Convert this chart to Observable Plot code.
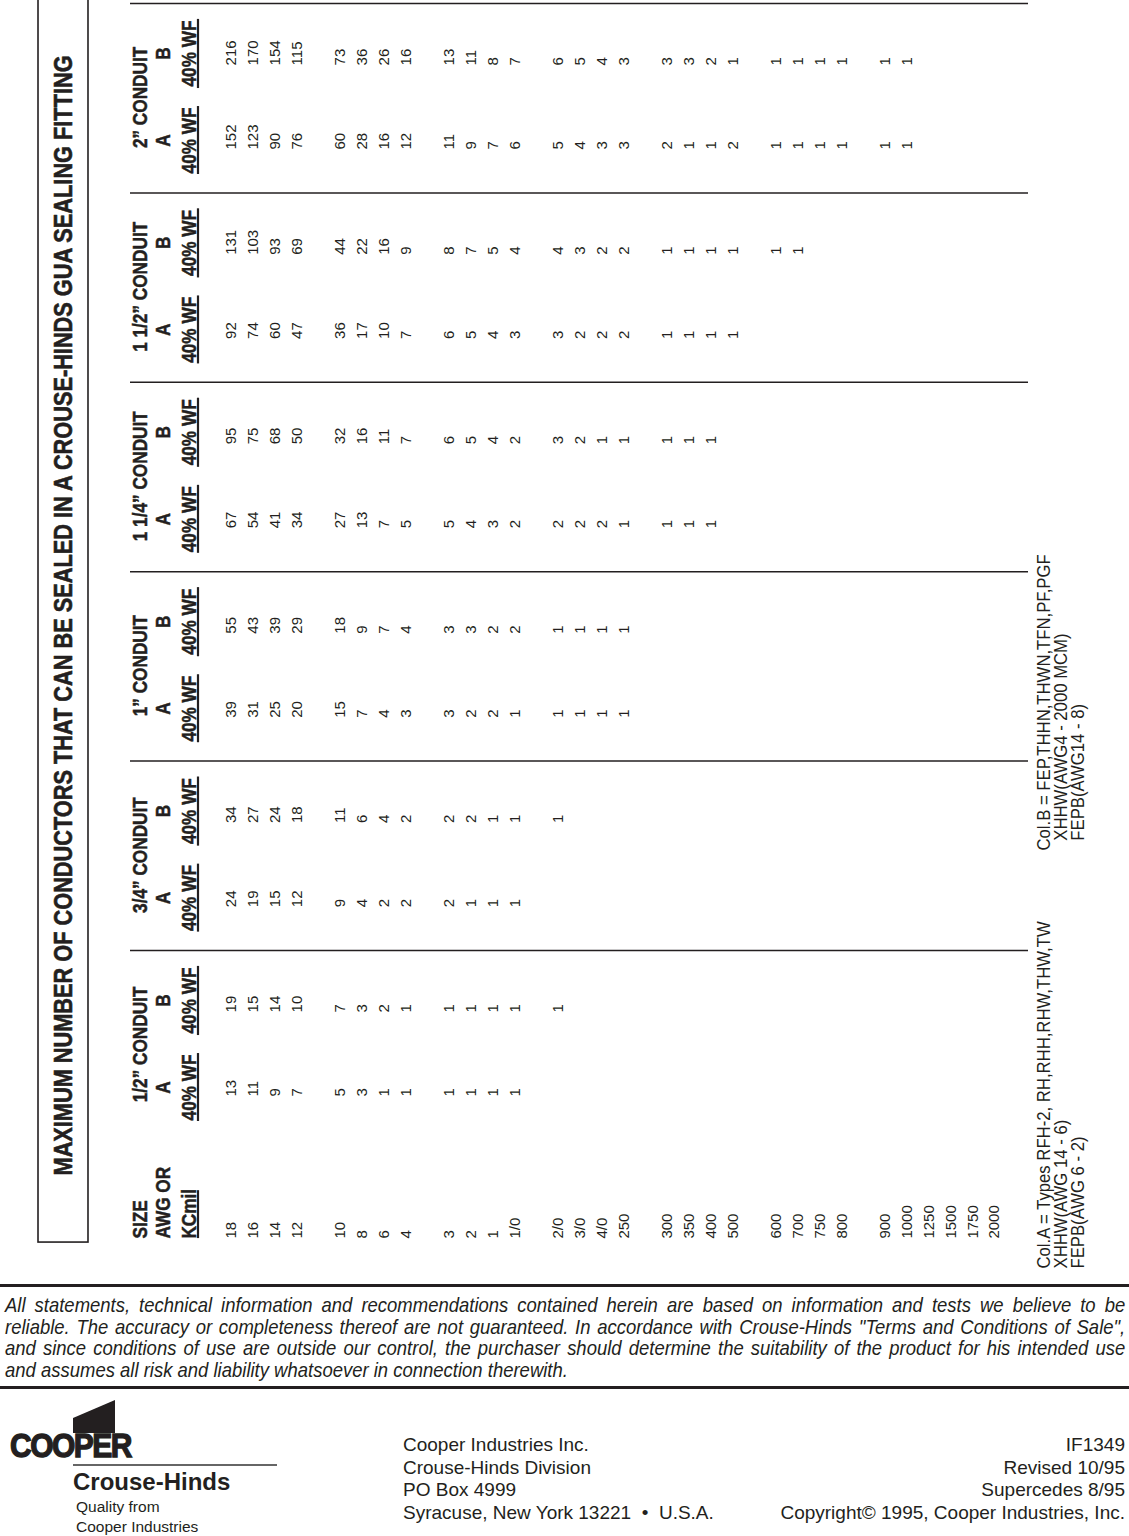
<!DOCTYPE html>
<html>
<head>
<meta charset="utf-8">
<script src="https://cdn.jsdelivr.net/npm/d3@7"></script>
<script src="https://cdn.jsdelivr.net/npm/@observablehq/plot@0.6"></script>
<style>
  body { margin: 0; background: #fff; }
  #page { position: relative; width: 1129px; height: 1536px; overflow: hidden; background: #fff; color: #231f20; font-family: "Liberation Sans", Arial, Helvetica, sans-serif; }
  #chart { position: absolute; left: 0; top: 0; }
  .hr { position: absolute; left: 0; width: 1129px; height: 3px; background: #231f20; }
  .disc { position: absolute; left: 5px; width: 1273px; transform: scaleX(0.88); transform-origin: 0 0; font-family: "Liberation Sans", Arial, sans-serif; font-style: italic; font-size: 21px; line-height: 21.7px; white-space: nowrap; }
  .disc div { text-align: justify; text-align-last: justify; }
  .disc div.last { text-align: left; text-align-last: left; }
  .addr { position: absolute; top: 1434px; font-size: 19px; line-height: 22.5px; }
</style>
</head>
<body>
<div id="page">
  <div id="chart"></div>
  <div class="hr" style="top:1284px"></div>
  <div class="disc" style="top:1294px">
    <div>All statements, technical information and recommendations contained herein are based on information and tests we believe to be</div>
    <div>reliable. The accuracy or completeness thereof are not guaranteed. In accordance with Crouse-Hinds "Terms and Conditions of Sale",</div>
    <div>and since conditions of use are outside our control, the purchaser should determine the suitability of the product for his intended use</div>
    <div class="last">and assumes all risk and liability whatsoever in connection therewith.</div>
  </div>
  <div class="hr" style="top:1386px"></div>
  <svg style="position:absolute;left:0;top:1395px" width="300" height="141">
    <polygon points="73,23 115,5 115,38 73,38" fill="#231f20"></polygon>
    <text x="10" y="62" font-family="Liberation Sans, Arial, sans-serif" font-weight="bold" font-size="30" letter-spacing="-1.5" stroke="#231f20" stroke-width="1.2" transform="translate(0,62) scale(1,1.12) translate(0,-62)" fill="#231f20">COOPER</text>
    <line x1="73" y1="70" x2="277" y2="70" stroke="#333" stroke-width="1.3"></line>
    <text x="73" y="95" font-family="Liberation Sans, Arial, sans-serif" font-weight="bold" font-size="24" fill="#231f20">Crouse-Hinds</text>
    <text x="76" y="117" font-family="Liberation Sans, Arial, sans-serif" font-size="15.5" fill="#231f20">Quality from</text>
    <text x="76" y="137" font-family="Liberation Sans, Arial, sans-serif" font-size="15.5" fill="#231f20">Cooper Industries</text>
  </svg>
  <div class="addr" style="left:403px">Cooper Industries Inc.<br>Crouse-Hinds Division<br>PO Box 4999<br>Syracuse, New York 13221 &nbsp;•&nbsp; U.S.A.</div>
  <div class="addr" style="right:4px;text-align:right">IF1349<br>Revised 10/95<br>Supercedes 8/95<br>Copyright© 1995, Cooper Industries, Inc.</div>
</div>
<script>
// ---------------- data ----------------
const titleText = "MAXIMUM NUMBER OF CONDUCTORS THAT CAN BE SEALED IN A CROUSE-HINDS GUA SEALING FITTING";
const sizes = ["18","16","14","12","10","8","6","4","3","2","1","1/0","2/0","3/0","4/0","250","300","350","400","500","600","700","750","800","900","1000","1250","1500","1750","2000"];
const sizeGroupLengths = [4, 4, 4, 4, 4, 4, 6];
const sizeHeader = ["SIZE", "AWG OR", "KCmil"];
const conduits = ["1/2”", "3/4”", "1”", "1 1/4”", "1 1/2”", "2”"];
const subLetters = ["A", "B"];
const subHeader = "40% WF";

const half_A   = [13,11,9,7, 5,3,1,1, 1,1,1,1];
const half_B   = [19,15,14,10, 7,3,2,1, 1,1,1,1, 1];
const threeQ_A = [24,19,15,12, 9,4,2,2, 2,1,1,1];
const threeQ_B = [34,27,24,18, 11,6,4,2, 2,2,1,1, 1];
const one_A    = [39,31,25,20, 15,7,4,3, 3,2,2,1, 1,1,1,1];
const one_B    = [55,43,39,29, 18,9,7,4, 3,3,2,2, 1,1,1,1];
const oneQ_A   = [67,54,41,34, 27,13,7,5, 5,4,3,2, 2,2,2,1, 1,1,1];
const oneQ_B   = [95,75,68,50, 32,16,11,7, 6,5,4,2, 3,2,1,1, 1,1,1];
const oneH_A   = [92,74,60,47, 36,17,10,7, 6,5,4,3, 3,2,2,2, 1,1,1,1];
const oneH_B   = [131,103,93,69, 44,22,16,9, 8,7,5,4, 4,3,2,2, 1,1,1,1, 1,1];
const two_A    = [152,123,90,76, 60,28,16,12, 11,9,7,6, 5,4,3,3, 2,1,1,2, 1,1,1,1, 1,1];
const two_B    = [216,170,154,115, 73,36,26,16, 13,11,8,7, 6,5,4,3, 3,3,2,1, 1,1,1,1, 1,1];

const notesA = ["Col.A = Types RFH-2, RH,RHH,RHW,THW,TW", "XHHW(AWG 14 - 6)", "FEPB(AWG 6 - 2)"];
const notesB = ["Col.B = FEP,THHN,THWN,TFN,PF,PGF", "XHHW(AWG4 - 2000 MCM)", "FEPB(AWG14 - 8)"];

// ---------------- layout (scale units) ----------------
// x: one unit per size row (one blank slot between groups); y: one unit per conduit band
const INK = "#231f20";
const FONT = '"Liberation Sans",Arial,Helvetica,sans-serif';
const HX = {line1: -4.174, line2: -3.119, line3: -1.927, under: -1.537, box1: -8.853, box2: -6.560, title: -7.661, rule1: -4.633, rule2: 36.56};
const NX = [37.25, 38.03, 38.81];
const OY = {head: 0.496, aHead: 0.723, bHead: 0.264, aVal: 0.771, bVal: 0.327, aU1: 0.544, aU2: 0.903, bU1: 0.084, bU2: 0.449};
const Y = {sizeBottom: 6.521, kcU1: 6.268, title: 3.231, box1: -0.03, box2: 6.542, notesA: 6.679, notesB: 4.472, notesB2: 4.42};

const groupOf = [];
sizeGroupLengths.forEach((n, g) => { for (let i = 0; i < n; i++) groupOf.push(g); });
const slot = r => r + groupOf[r];

const columns = [
  {c: 0, sub: "A", values: half_A}, {c: 0, sub: "B", values: half_B},
  {c: 1, sub: "A", values: threeQ_A}, {c: 1, sub: "B", values: threeQ_B},
  {c: 2, sub: "A", values: one_A}, {c: 2, sub: "B", values: one_B},
  {c: 3, sub: "A", values: oneQ_A}, {c: 3, sub: "B", values: oneQ_B},
  {c: 4, sub: "A", values: oneH_A}, {c: 4, sub: "B", values: oneH_B},
  {c: 5, sub: "A", values: two_A}, {c: 5, sub: "B", values: two_B}
];
const band = c => conduits.length - 1 - c;

const cells = columns.flatMap(col => col.values.map((v, r) => ({
  x: slot(r), y: band(col.c) + (col.sub === "A" ? OY.aVal : OY.bVal), t: String(v)
})));
const sizeCells = sizes.map((s, r) => ({x: slot(r), y: Y.sizeBottom, t: s}));
const conduitHeads = conduits.map((c, i) => ({x: HX.line1, y: band(i) + OY.head, t: c + " CONDUIT"}));
const letterHeads = conduits.flatMap((c, i) => [
  {x: HX.line2, y: band(i) + OY.aHead, t: subLetters[0]},
  {x: HX.line2, y: band(i) + OY.bHead, t: subLetters[1]}
]);
const wfHeads = conduits.flatMap((c, i) => [
  {x: HX.line3, y: band(i) + OY.aHead, t: subHeader},
  {x: HX.line3, y: band(i) + OY.bHead, t: subHeader}
]);
const underlines = conduits.flatMap((c, i) => [
  {x: HX.under, y1: band(i) + OY.aU1, y2: band(i) + OY.aU2},
  {x: HX.under, y1: band(i) + OY.bU1, y2: band(i) + OY.bU2}
]).concat([{x: HX.under, y1: Y.kcU1, y2: Y.sizeBottom}]);
const sizeHeads = sizeHeader.map((t, i) => ({x: [HX.line1, HX.line2, HX.line3][i], y: Y.sizeBottom, t}));
const bandLines = d3.range(conduits.length).map(k => ({y: k, x1: HX.rule1, x2: HX.rule2}));
const notes = notesA.map((t, i) => ({x: NX[i], y: Y.notesA, t}))
  .concat(notesB.map((t, i) => ({x: NX[i], y: i === 0 ? Y.notesB : Y.notesB2, t})));

const headOpts = {x: "x", y: "y", text: "t", rotate: -90, fontFamily: FONT, fontWeight: "bold", fontSize: 21, fill: INK, stroke: INK, strokeWidth: 0.5};

const chart = Plot.plot({
  width: 1129,
  height: 1278,
  margin: 0,
  x: {type: "linear", domain: [0, 35], range: [231, 994], axis: null},
  y: {type: "linear", domain: [0, 6], range: [3, 1139.4], axis: null},
  style: {background: "#fff", color: INK},
  marks: [
    Plot.rect([{x1: HX.box1, x2: HX.box2, y1: Y.box1, y2: Y.box2}], {x1: "x1", x2: "x2", y1: "y1", y2: "y2", fill: "none", stroke: INK, strokeWidth: 1.6}),
    Plot.text([{x: HX.title, y: Y.title, t: titleText}], {x: "x", y: "y", text: "t", rotate: -90, textAnchor: "middle", fontFamily: FONT, fontWeight: "bold", fontSize: 25, fill: INK, stroke: INK, strokeWidth: 0.6}),
    Plot.ruleY(bandLines, {y: "y", x1: "x1", x2: "x2", stroke: INK, strokeWidth: 1.5}),
    Plot.text(conduitHeads, {...headOpts, textAnchor: "middle"}),
    Plot.text(letterHeads, {...headOpts, textAnchor: "middle"}),
    Plot.text(wfHeads, {...headOpts, textAnchor: "middle"}),
    Plot.text(sizeHeads, {...headOpts, textAnchor: "start"}),
    Plot.ruleX(underlines, {x: "x", y1: "y1", y2: "y2", stroke: INK, strokeWidth: 2.2}),
    Plot.text(sizeCells, {x: "x", y: "y", text: "t", rotate: -90, textAnchor: "start", fontFamily: FONT, fontSize: 15, fill: INK}),
    Plot.text(cells, {x: "x", y: "y", text: "t", rotate: -90, textAnchor: "start", fontFamily: FONT, fontSize: 15, fill: INK}),
    Plot.text(notes, {x: "x", y: "y", text: "t", rotate: -90, textAnchor: "start", fontFamily: FONT, fontSize: 19, fill: INK})
  ]
});
document.getElementById("chart").appendChild(chart);

// condensed lettering (the original uses a condensed face): squeeze along the reading direction
const headStrings = new Set([...conduitHeads.map(d => d.t), ...subLetters, subHeader, ...sizeHeader]);
const noteStrings = new Set([...notesA, ...notesB]);
const ctx = document.createElement("canvas").getContext("2d");
chart.querySelectorAll("text").forEach(t => {
  const s = t.textContent;
  let f = null, font = null;
  if (s === titleText) { f = 0.87; font = `bold 25px ${FONT}`; }
  else if (headStrings.has(s)) { f = 0.82; font = `bold 21px ${FONT}`; }
  else if (noteStrings.has(s)) { f = 0.88; font = `19px ${FONT}`; }
  if (f == null) return;
  const tr = t.getAttribute("transform") || "";
  if (/rotate/.test(tr)) {
    t.setAttribute("transform", tr + ` scale(${f},1)`);
  } else {
    ctx.font = font;
    t.setAttribute("textLength", (ctx.measureText(s).width * f).toFixed(1));
    t.setAttribute("lengthAdjust", "spacingAndGlyphs");
  }
});
</script>
</body>
</html>
